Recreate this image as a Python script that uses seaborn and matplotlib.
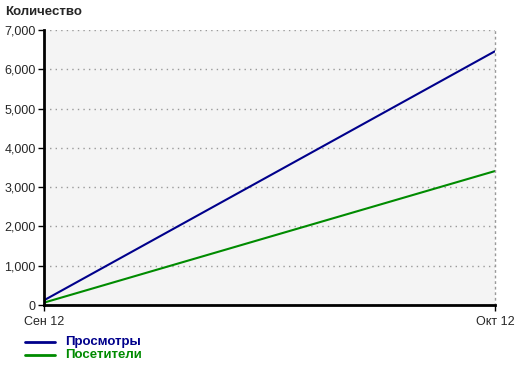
import matplotlib
matplotlib.use("Agg")
import matplotlib.pyplot as plt
import seaborn as sns
import pandas as pd
from matplotlib.ticker import FuncFormatter, MultipleLocator

dates = ["Сен 12", "Окт 12"]
views = [120, 6460]
visitors = [60, 3410]
series_names = ["Просмотры", "Посетители"]
colors = ["#00008b", "#008b00"]

sns.set_style("white")
plt.rcParams['font.family'] = ['Liberation Sans', 'DejaVu Sans']

df = pd.DataFrame({
    "x": list(range(len(dates))) * 2,
    "value": views + visitors,
    "series": [series_names[0]] * len(dates) + [series_names[1]] * len(dates),
})

fig = plt.figure(figsize=(5.2, 3.66), dpi=100)
ax = fig.add_axes([44/520, 61/366, (495-44)/520, (305-30)/366])
ax.set_facecolor("#f4f4f4")
sns.lineplot(data=df, x="x", y="value", hue="series", palette=colors,
             linewidth=1.5, ax=ax, legend=False)
ax.set_xlim(0, 1)
ax.set_ylim(0, 7000)
ax.yaxis.set_major_locator(MultipleLocator(1000))
ax.yaxis.set_major_formatter(FuncFormatter(lambda v, p: f"{int(v):,}"))
ax.set_xticks([0, 1])
ax.set_xticklabels(dates)
ax.set_xlabel("")
ax.set_ylabel("")
ax.grid(axis="y", color="#999999", linestyle=(0, (1, 3)), linewidth=1)
for s in ["left", "bottom"]:
    ax.spines[s].set_linewidth(2)
    ax.spines[s].set_color("black")
ax.spines["top"].set_visible(False)
ax.spines["right"].set_color("#999999")
ax.spines["right"].set_linestyle((0, (1, 3)))
ax.spines["right"].set_linewidth(1)
ax.tick_params(axis="both", length=4, width=1, color="black", labelsize=9,
               direction="out", left=True, bottom=True)
ax.tick_params(axis="x", pad=4)
ax.tick_params(axis="y", pad=2)
fig.text(5/520, 1 - 12/366, "Количество", fontsize=9.5, fontweight="bold", va="center", ha="left")

for i, (name, c) in enumerate(zip(series_names, colors)):
    y = 1 - (342 + 13 * i) / 366
    fig.add_artist(plt.Line2D([25/520, 55/520], [y, y], color=c, linewidth=2, transform=fig.transFigure))
    fig.text(65/520, y, name, color=c, fontsize=9.5, fontweight="bold", va="center", ha="left")

fig.savefig("out.png", dpi=100)
